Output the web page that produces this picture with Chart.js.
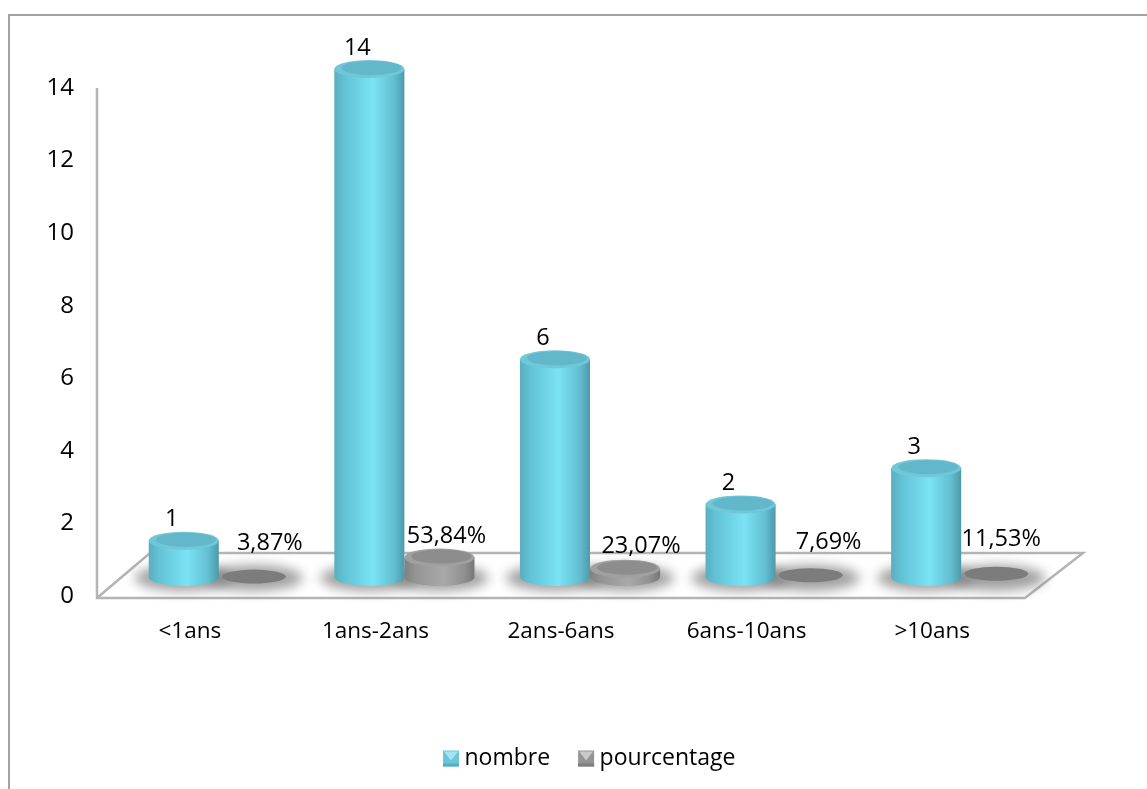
<!DOCTYPE html>
<html>
<head>
<meta charset="utf-8">
<title>nombre et pourcentage</title>
<script src="https://cdn.jsdelivr.net/npm/chart.js@4"></script>
<style>
  html,body{margin:0;padding:0;background:#fff;overflow:hidden}
  #box{position:relative;width:1147px;height:789px}
  #chart{display:block}
</style>
</head>
<body>
<div id="box"><canvas id="chart" width="1147" height="789"></canvas></div>
<script>
const categories = ['<1ans','1ans-2ans','2ans-6ans','6ans-10ans','>10ans'];
const nombre = [1,14,6,2,3];
const pourcentage = [0.0387,0.5384,0.2307,0.0769,0.1153];
const yTicks = [0,2,4,6,8,10,12,14];

const FONT = '"Open Sans", "Noto Sans", sans-serif';
const DX = 29, DY = -19;      // floor depth: bars stand halfway back on the floor
const RY = 9;                 // cylinder ellipse height
const LEGEND_X = 415;
// hand-placed percent labels, relative to the top of the grey cylinder
const pctShift = [[16,-32],[7,-21],[16,-22],[18,-32],[5,-34]];

function pctText(v){ return (v*100).toFixed(2).replace('.',',')+'%'; }

function hGrad(ctx, x0, x1, stops){
  const g = ctx.createLinearGradient(x0,0,x1,0);
  stops.forEach(s=>g.addColorStop(s[0],s[1]));
  return g;
}

const CYAN = [[0,'#5aaebf'],[0.15,'#62c3d6'],[0.55,'#7be3f4'],[0.85,'#62bfd1'],[1,'#4f99a9']];
const GREY = [[0,'#808080'],[0.15,'#939393'],[0.55,'#a9a9a9'],[0.85,'#919191'],[1,'#767676']];

function drawFloor(chart){
  const {ctx, chartArea:a} = chart;
  const bx = 150, by = a.bottom-43, brx = 1083;
  ctx.save();
  ctx.strokeStyle = '#b4b4b4';
  ctx.lineWidth = 2.5;
  ctx.beginPath();
  ctx.moveTo(a.left,a.top);
  ctx.lineTo(a.left,a.bottom+2);
  ctx.lineTo(a.right,a.bottom+2);
  ctx.lineTo(brx,by);
  ctx.lineTo(bx,by);
  ctx.lineTo(a.left,a.bottom+2);
  ctx.stroke();
  ctx.restore();
}

function drawShadow(ctx, cx, by, rx, ry){
  ctx.save();
  ctx.filter = 'blur(6px)';
  ctx.fillStyle = 'rgba(125,125,125,.72)';
  ctx.beginPath();
  ctx.ellipse(cx,by+1,rx,ry,0,0,Math.PI*2);
  ctx.fill();
  ctx.restore();
}

function drawCylinder(ctx, cx, top, bottom, rx, stops, lid, rim){
  const g = hGrad(ctx,cx-rx,cx+rx,stops);
  ctx.save();
  ctx.fillStyle = g;
  ctx.beginPath();
  ctx.ellipse(cx,bottom,rx,RY,0,0,Math.PI);
  ctx.lineTo(cx-rx,top);
  ctx.lineTo(cx+rx,top);
  ctx.closePath();
  ctx.fill();
  ctx.beginPath();
  ctx.ellipse(cx,top,rx,RY,0,0,Math.PI*2);
  ctx.fillStyle = rim;
  ctx.fill();
  ctx.beginPath();
  ctx.ellipse(cx+2,top-1,rx-5,RY-2,0,0,Math.PI*2);
  ctx.fillStyle = lid;
  ctx.fill();
  ctx.restore();
}

function drawLegendIcon(ctx, x, y, s, base, hi, lo){
  ctx.save();
  ctx.fillStyle = base;
  ctx.fillRect(x,y,s,s);
  ctx.fillStyle = lo;
  ctx.fillRect(x,y+s-3,s,3);
  ctx.fillStyle = hi;
  ctx.beginPath();
  ctx.moveTo(x+1,y+1);
  ctx.lineTo(x+s-1,y+1);
  ctx.lineTo(x+s/2,y+s/2+2);
  ctx.closePath();
  ctx.fill();
  ctx.restore();
}

// draws the bars as cylinders standing on the floor, from the bar elements' own geometry
const cylinders = {
  id:'cylinders',
  afterLayout(chart){
    // legend sits off-centre, under the right part of the plot
    const lg = chart.legend;
    const d = LEGEND_X-lg.legendHitBoxes[0].left;
    lg.left += d; lg.right += d;
    lg.legendHitBoxes.forEach(h=>{ h.left += d; });
  },
  beforeDraw(chart){
    const ctx = chart.ctx;
    ctx.save();
    ctx.strokeStyle = '#a3a3a3';
    ctx.lineWidth = 2;
    ctx.beginPath();
    ctx.moveTo(9,789);
    ctx.lineTo(9,15);
    ctx.lineTo(1147,15);
    ctx.stroke();
    ctx.restore();
  },
  beforeDatasetsDraw(chart){
    const ctx = chart.ctx;
    drawFloor(chart);
    [0,1].forEach(i=>{
      chart.getDatasetMeta(i).data.forEach(b=>{
        drawShadow(ctx,b.x+DX,b.base+DY,b.width/2+14,RY+4);
      });
    });
  },
  afterDatasetsDraw(chart){
    const ctx = chart.ctx;
    // the grey series sits behind the cyan one
    chart.getDatasetMeta(1).data.forEach(b=>{
      const rx = b.width/2;
      const top = b.y+DY, bottom = b.base+DY;
      if(bottom-top < 5){
        ctx.save();
        ctx.fillStyle = '#7c7c7c';
        ctx.beginPath();
        ctx.ellipse(b.x+DX,top+1,rx-3,RY-2,0,0,Math.PI*2);
        ctx.fill();
        ctx.restore();
      } else {
        drawCylinder(ctx,b.x+DX,top,bottom,rx,GREY,'#8d8d8d','#a0a0a0');
      }
    });
    chart.getDatasetMeta(0).data.forEach(b=>{
      drawCylinder(ctx,b.x+DX,b.y+DY,b.base+DY,b.width/2,CYAN,'#62b8ca','#70c7d8');
    });

    ctx.save();
    ctx.fillStyle = '#000';
    ctx.font = '23.5px '+FONT;
    ctx.textAlign = 'center';
    ctx.textBaseline = 'middle';
    chart.getDatasetMeta(0).data.forEach((b,i)=>{
      ctx.fillText(nombre[i], b.x+DX-12, b.y+DY-21);
    });
    chart.getDatasetMeta(1).data.forEach((b,i)=>{
      const s = pctShift[i];
      ctx.fillText(pctText(pourcentage[i]), b.x+DX+s[0], b.y+DY+s[1]);
    });
    ctx.restore();
  },
  afterDraw(chart){
    const ctx = chart.ctx;
    const hb = chart.legend.legendHitBoxes;
    const y0 = hb[0].top+hb[0].height/2-8;
    drawLegendIcon(ctx,hb[0].left,y0,16,'#6cc6d9','#a3e6f2','#56aebf');
    drawLegendIcon(ctx,hb[1].left,y0,16,'#949494','#c9c9c9','#7f7f7f');
  }
};

new Chart(document.getElementById('chart'),{
  type:'bar',
  data:{
    labels:categories,
    datasets:[
      {label:'nombre',data:nombre,backgroundColor:'transparent',borderWidth:0},
      {label:'pourcentage',data:pourcentage,backgroundColor:'transparent',borderWidth:0}
    ]
  },
  options:{
    responsive:false,
    animation:false,
    layout:{padding:{left:0,right:122,top:88,bottom:9}},
    categoryPercentage:0.755,
    barPercentage:1,
    scales:{
      x:{
        grid:{display:false},
        border:{display:false},
        ticks:{color:'#000',font:{family:FONT,size:22.5},padding:14,maxRotation:0},
        afterFit(s){ s.height = 123; }
      },
      y:{
        min:0,max:14,
        afterBuildTicks(s){ s.ticks = yTicks.map(v=>({value:v})); },
        grid:{display:false},
        border:{display:false},
        ticks:{color:'#000',font:{family:FONT,size:24},padding:15},
        afterFit(s){ s.width = 97; }
      }
    },
    plugins:{
      tooltip:{enabled:false},
      legend:{
        position:'bottom',
        align:'start',
        labels:{
          color:'#000',
          font:{family:FONT,size:23},
          boxWidth:10,boxHeight:10,padding:28,
          generateLabels(chart){
            return chart.data.datasets.map((d,i)=>({text:d.label,fillStyle:'transparent',strokeStyle:'transparent',lineWidth:0,datasetIndex:i}));
          }
        }
      }
    }
  },
  plugins:[cylinders]
});
</script>
</body>
</html>
